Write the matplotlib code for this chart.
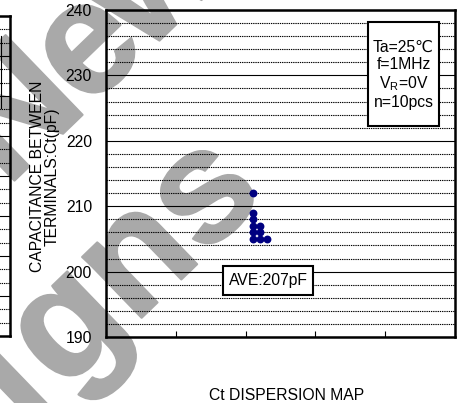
import matplotlib
matplotlib.use("Agg")
import numpy as np
import matplotlib.pyplot as plt
from matplotlib.patches import Rectangle
from matplotlib.ticker import MultipleLocator
import matplotlib.patheffects as pe

plt.rcParams['font.family'] = ['Liberation Sans', 'DejaVu Sans']
plt.rcParams['mathtext.fontset'] = 'custom'
plt.rcParams['mathtext.rm'] = 'Liberation Sans'

# ---- data ----
sample_x = [2.1, 2.1, 2.1, 2.1, 2.1, 2.1, 2.2, 2.2, 2.2, 2.3]
sample_ct = [212, 209, 208, 207, 206, 205, 207, 206, 205, 205]
y_min, y_max = 190, 240
x_min, x_max = 0, 5
y_label = "CAPACITANCE BETWEEN\nTERMINALS:Ct(pF)"
x_title = "Ct DISPERSION MAP"
cond_lines = ["Ta=25\u2103", "f=1MHz", "V$_{\\mathregular{R}}$=0V", "n=10pcs"]
ave_text = "AVE:207pF"
watermark_upper = "New"
watermark_lower = "igns"
# neighbouring (cropped) chart
left_line_x = [0.972, 0.972]
left_line_y = [7.5, 5.7]

FS = 11.3
W, H = 467, 403
fig = plt.figure(figsize=(4.67, 4.03), dpi=100)
fig.patch.set_facecolor('white')

# ---- watermark (drawn behind everything) ----
wm_col = '#a9a9a9'
ang = 44.0
u = np.array([np.cos(np.radians(ang)), -np.sin(np.radians(ang))])  # along baseline, screen px (y down)
step = 93.0


def wm_letter(ch, px, py):
    fig.text(px / W, 1 - py / H, ch, fontsize=116, fontweight='bold', color=wm_col,
             rotation=ang, rotation_mode='anchor', ha='center', va='center', zorder=-5,
             path_effects=[pe.withStroke(linewidth=1.5, foreground=wm_col)])


# lower line: letters placed leftwards from the final "s"
end_pt = np.array([207.0, 197.0])
adv = [0.0, 1.0, 2.05, 2.9]  # from the end: s, n, g, i
for k, ch in enumerate(reversed(watermark_lower)):
    p = end_pt - adv[k] * step * u
    wm_letter(ch, p[0], p[1])
# upper line: centred on the "e"
e_pt = np.array([90.0, 50.0])
for k, ch in enumerate(watermark_upper):
    p = e_pt + (k - 1) * step * 1.05 * u
    wm_letter(ch, p[0], p[1])

# ---- cropped neighbouring chart at the left edge ----
axl = fig.add_axes([-0.7, 1 - 336 / H, 0.7 + 10 / W, 320 / H])
axl.set_facecolor('none')
axl.set_xlim(0, 1)
axl.set_ylim(0, 8)
axl.yaxis.set_major_locator(MultipleLocator(1))
axl.yaxis.set_minor_locator(MultipleLocator(1 / 3))
axl.grid(True, which='major', axis='y', color='black', lw=0.8, ls='-')
axl.grid(True, which='minor', axis='y', color='black', lw=0.8, ls=(0, (1.2, 0.8)))
axl.plot(left_line_x, left_line_y, color='black', lw=0.8)
axl.tick_params(which='both', length=0, labelleft=False, labelbottom=False)
for s in axl.spines.values():
    s.set_linewidth(1.8)

# ---- main chart ----
ax = fig.add_axes([106 / W, 1 - 337 / H, 349 / W, 327 / H])
ax.set_facecolor('none')
ax.set_xlim(x_min, x_max)
ax.set_ylim(y_min, y_max)
ax.yaxis.set_major_locator(MultipleLocator(10))
ax.yaxis.set_minor_locator(MultipleLocator(2))
ax.xaxis.set_major_locator(MultipleLocator(1))
ax.grid(True, which='major', axis='y', color='black', lw=0.8, ls='-')
ax.grid(True, which='minor', axis='y', color='black', lw=0.8, ls=(0, (1.2, 0.8)))
ax.tick_params(axis='y', which='both', length=0, labelsize=FS, pad=10)
ax.tick_params(axis='x', which='major', direction='in', length=4, width=0.8,
               labelbottom=False, top=False)
ax.tick_params(axis='x', which='minor', length=0)
for s in ax.spines.values():
    s.set_linewidth(1.8)
ax.set_axisbelow(True)

ax.scatter(sample_x, sample_ct, s=32, color='#000080', zorder=3, linewidths=0)

ax.set_ylabel(y_label, fontsize=FS, multialignment='center', linespacing=1.0)
ax.yaxis.set_label_coords(-0.132, 0.49)

# condition box
ax.add_patch(Rectangle(((368 - 106) / 349, (337 - 126) / 327), 71 / 349, 104 / 327,
                       transform=ax.transAxes, facecolor='white', edgecolor='black',
                       lw=1.5, zorder=4))
ax.text((403.5 - 106) / 349, (337 - 75) / 327, "\n".join(cond_lines), transform=ax.transAxes,
        ha='center', va='center', fontsize=FS, linespacing=1.17, zorder=5)

# average box
ax.add_patch(Rectangle(((223 - 106) / 349, (337 - 295) / 327), 90 / 349, 29 / 327,
                       transform=ax.transAxes, facecolor='white', edgecolor='black',
                       lw=1.5, zorder=4))
ax.text((268 - 106) / 349, (337 - 280.5) / 327, ave_text, transform=ax.transAxes,
        ha='center', va='center', fontsize=FS, zorder=5)

fig.text(287 / W, 1 - 400 / H, x_title, ha='center', va='baseline', fontsize=FS)

fig.savefig("out.png", dpi=100, facecolor='white')
